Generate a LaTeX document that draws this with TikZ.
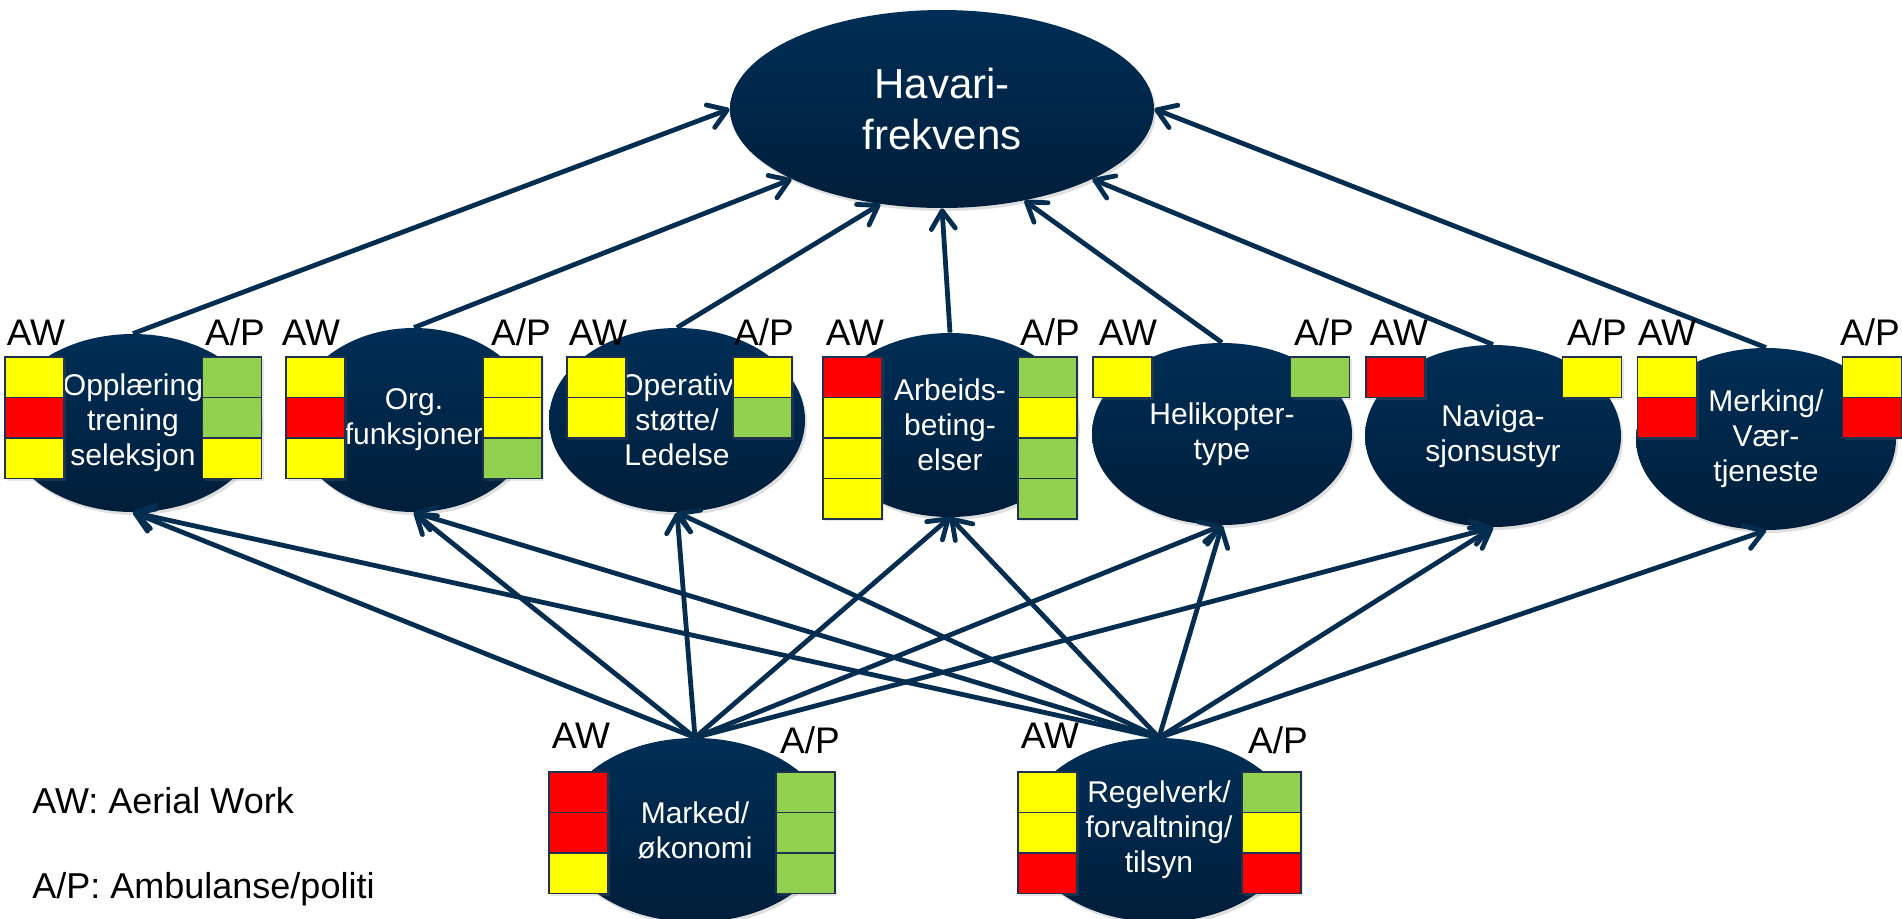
\documentclass[tikz,border=0pt]{standalone}
\usepackage{fontspec}
\setmainfont{Liberation Sans}
\usetikzlibrary{arrows.meta,shapes.geometric,shadows}
\definecolor{navyT}{RGB}{0,46,86}
\definecolor{navyB}{RGB}{0,30,58}
\definecolor{linec}{RGB}{5,45,80}
\definecolor{cY}{RGB}{255,255,0}
\definecolor{cR}{RGB}{255,0,0}
\definecolor{cG}{RGB}{146,208,80}
\definecolor{cellb}{RGB}{30,50,80}
\newcommand{\boxcolumn}[4]{\foreach \cc [count=\ii] in {#4} {\node[cellbox, fill=\cc] (#1\ii) at (#2, {#3+20.25+(\ii-1)*40.5}) {};}}
\begin{document}
\begin{tikzpicture}[x=0.5pt,y=-0.5pt,
  ell/.style={ellipse, inner sep=0pt, top color=navyT, bottom color=navyB, draw=none, text=white, align=center,
    drop shadow={shadow xshift=1pt,shadow yshift=-1.5pt,opacity=0.25}},
  midtext/.style={font=\fontsize{15}{17.5}\selectfont},
  cellbox/.style={rectangle, draw=cellb, line width=0.8pt, minimum width=29.5pt, minimum height=20.25pt, inner sep=0pt,
    drop shadow={shadow xshift=1pt,shadow yshift=-1pt,opacity=0.2}},
  lab/.style={anchor=base, inner sep=0pt, font=\fontsize{18.5}{21}\selectfont},
  leg/.style={anchor=base west, inner sep=0pt, font=\fontsize{18}{21}\selectfont},
  arr/.style={draw=linec, line width=2.4pt, -{Straight Barb[length=9pt,width=12pt,round]}}
]
\useasboundingbox (0,0) rectangle (1902,918);

% top node
\node[ell, minimum width=212pt, minimum height=99pt, font=\fontsize{21}{25.5}\selectfont] (top) at (942,109) {Havari-\\frekvens};

% middle row
\node[ell, midtext, minimum width=128pt, minimum height=89pt] (n1) at (133,423) {Opplæring\\trening\\seleksjon};
\node[ell, midtext, minimum width=120pt, minimum height=92pt] (n2) at (414,420) {Org.\\funksjoner};
\node[ell, midtext, minimum width=128pt, minimum height=92pt] (n3) at (677,420) {Operativ\\støtte/\\Ledelse};
\node[ell, midtext, minimum width=128pt, minimum height=92pt] (n4) at (950,425) {Arbeids-\\beting-\\elser};
\node[ell, midtext, minimum width=130pt, minimum height=91pt] (n5) at (1222,434) {Helikopter-\\type};
\node[ell, midtext, minimum width=128pt, minimum height=91pt] (n6) at (1493,436) {Naviga-\\sjonsustyr};
\node[ell, midtext, minimum width=130pt, minimum height=91pt] (n7) at (1766,439) {Merking/\\Vær-\\tjeneste};

% bottom row
\node[ell, midtext, minimum width=135pt, minimum height=92pt] (mk) at (695,830) {Marked/\\økonomi};
\node[ell, midtext, minimum width=135pt, minimum height=92pt] (rg) at (1159,830) {Regelverk/\\forvaltning/\\tilsyn};

% arrows to top
\draw[arr] (n1.north) -- (top.180);
\draw[arr] (n2.north) -- (top.205);
\draw[arr] (n3.north) -- (top.237);
\draw[arr] (n4.north) -- (top.270);
\draw[arr] (n5.north) -- (top.312);
\draw[arr] (n6.north) -- (top.335);
\draw[arr] (n7.north) -- (top.0);

% arrows from bottom row
\foreach \t in {n1,n2,n3,n4,n5,n6} {\draw[arr] (mk.north) -- (\t.south);}
\foreach \t in {n1,n2,n3,n4,n5,n6,n7} {\draw[arr] (rg.north) -- (\t.south);}

% colour cells
\boxcolumn{a1}{34.5}{357}{cY,cR,cY}
\boxcolumn{p1}{232}{357}{cG,cG,cY}
\boxcolumn{a2}{315.5}{357}{cY,cR,cY}
\boxcolumn{p2}{512.5}{357}{cY,cY,cG}
\boxcolumn{a3}{596.5}{357}{cY,cY}
\boxcolumn{p3}{762.5}{357}{cY,cG}
\boxcolumn{a4}{852.5}{357}{cR,cY,cY,cY}
\boxcolumn{p4}{1047.5}{357}{cG,cY,cG,cG}
\boxcolumn{a5}{1122.5}{357}{cY}
\boxcolumn{p5}{1320}{357}{cG}
\boxcolumn{a6}{1395.5}{357}{cR}
\boxcolumn{p6}{1592}{357}{cY}
\boxcolumn{a7}{1667}{357}{cY,cR}
\boxcolumn{p7}{1872}{357}{cY,cR}
\boxcolumn{am}{578.5}{772}{cR,cR,cY}
\boxcolumn{pm}{805.5}{772}{cG,cG,cG}
\boxcolumn{ar}{1047.5}{772}{cY,cY,cR}
\boxcolumn{pr}{1271.5}{772}{cG,cY,cR}

% labels
\node[lab] (la1) at (36,345) {AW};
\node[lab] (lp1) at (235,345) {A/P};
\node[lab] (la2) at (311,345) {AW};
\node[lab] (lp2) at (521,345) {A/P};
\node[lab] (la3) at (598,345) {AW};
\node[lab] (lp3) at (764,345) {A/P};
\node[lab] (la4) at (855,345) {AW};
\node[lab] (lp4) at (1050,345) {A/P};
\node[lab] (la5) at (1128,345) {AW};
\node[lab] (lp5) at (1324,345) {A/P};
\node[lab] (la6) at (1399,345) {AW};
\node[lab] (lp6) at (1597,345) {A/P};
\node[lab] (la7) at (1667,345) {AW};
\node[lab] (lp7) at (1870,345) {A/P};
\node[lab] (lam) at (581,748) {AW};
\node[lab] (lpm) at (810,753) {A/P};
\node[lab] (lar) at (1050,748) {AW};
\node[lab] (lpr) at (1278,753) {A/P};

% legend
\node[leg] (leg1) at (32,813) {AW: Aerial Work};
\node[leg] (leg2) at (32,898) {A/P: Ambulanse/politi};
\end{tikzpicture}
\end{document}
